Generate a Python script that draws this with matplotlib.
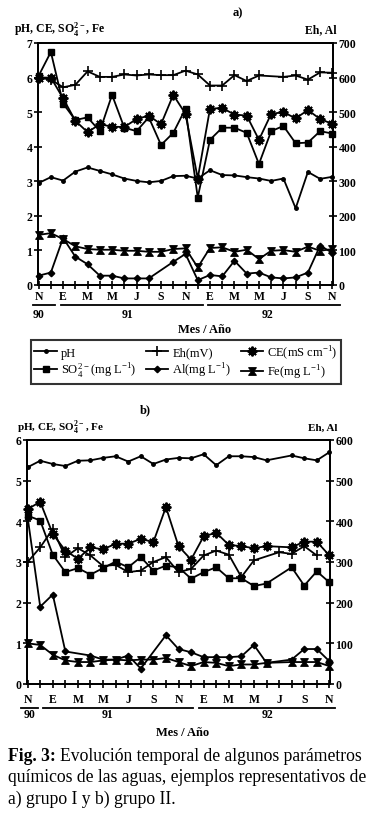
import matplotlib
matplotlib.use('Agg')
import numpy as np
import matplotlib.pyplot as plt
from matplotlib.path import Path
from matplotlib.lines import Line2D

plt.rcParams['font.family'] = ['Liberation Serif', 'DejaVu Serif']
plt.rcParams['mathtext.fontset'] = 'custom'
plt.rcParams['mathtext.rm'] = 'Liberation Serif'
plt.rcParams['mathtext.bf'] = 'Liberation Serif:bold'

# ---------------- data ----------------
months = list(range(25))  # Nov 1990 ... Nov 1992, monthly
month_labels = ['N', '', 'E', '', 'M', '', 'M', '', 'J', '', 'S', '', 'N',
                '', 'E', '', 'M', '', 'M', '', 'J', '', 'S', '', 'N']
years = ['90', '91', '92']
nan = float('nan')

# panel a) grupo I
ph_a = [2.95, 3.12, 3.02, 3.28, 3.40, 3.30, 3.20, 3.08, 3.01, 2.97, 3.01, 3.15, 3.16,
        3.08, 3.32, 3.18, 3.17, 3.12, 3.08, 3.01, 3.08, 2.22, 3.27, 3.07, 3.13]
eh_a = [600, 594, 572, 579, 618, 602, 602, 609, 606, 609, 607, 607, 620,
        609, 577, 577, 607, 590, 606, nan, 602, 606, 594, 615, 614]
ce_a = [6.00, 6.00, 5.40, 4.75, 4.42, 4.65, 4.58, 4.57, 4.80, 4.90, 4.65, 5.50, 4.95,
        3.08, 5.10, 5.12, 4.93, 4.90, 4.20, 4.95, 5.00, 4.82, 5.06, 4.80, 4.66]
so4_a = [6.05, 6.74, 5.25, 4.77, 4.85, 4.45, 5.50, 4.55, 4.45, 4.85, 4.05, 4.40, 5.10,
         2.53, 4.20, 4.55, 4.55, 4.40, 3.50, 4.45, 4.60, 4.10, 4.12, 4.45, 4.38]
al_a = [27, 36, 136, 82, 60, 27, 27, 19, 19, 19, nan, 67, 90,
        14, 29, 25, 70, 33, 36, 22, 19, 22, 36, 114, 93]
fe_a = [1.45, 1.50, 1.33, 1.12, 1.04, 1.02, 1.02, 0.99, 0.99, 0.96, 0.96, 1.04, 1.06,
        0.51, 1.07, 1.09, 0.96, 1.02, 0.75, 0.99, 1.01, 0.96, 1.11, 0.99, 1.04]

# panel b) grupo II
ph_b = [5.33, 5.49, 5.41, 5.36, 5.49, 5.50, 5.56, 5.60, 5.47, 5.60, 5.41, 5.52, 5.56,
        5.55, 5.65, 5.38, 5.60, 5.60, 5.58, 5.50, nan, 5.62, 5.55, 5.50, 5.70]
eh_b = [300, 336, 381, 312, 334, 316, 290, 293, 275, 279, 300, 312, 275,
        283, 316, 328, 318, 263, 304, nan, 324, 320, 339, 316, nan]
ce_b = [4.30, 4.48, 3.69, 3.28, 3.08, 3.36, 3.31, 3.45, 3.45, 3.57, 3.49, 4.35, 3.39,
        3.06, 3.63, 3.72, 3.42, 3.39, 3.34, 3.39, nan, 3.36, 3.50, 3.50, 3.16]
so4_b = [4.14, 4.02, 3.18, 2.75, 2.85, 2.69, 2.85, 3.01, 2.87, 3.12, 2.79, 2.91, 2.87,
         2.59, 2.75, 2.87, 2.60, 2.60, 2.41, 2.47, nan, 2.87, 2.42, 2.77, 2.50]
al_b = [410, 190, 220, 80, nan, 70, 60, 60, 70, 38, nan, 120, 86,
        78, 66, 66, 66, 68, 96, 52, nan, 60, 86, 86, 56]
fe_b = [1.00, 0.96, 0.72, 0.58, 0.54, 0.54, 0.58, 0.60, 0.58, 0.60, 0.60, 0.64, 0.54,
        0.44, 0.54, 0.52, 0.44, 0.48, 0.48, 0.52, nan, 0.54, 0.54, 0.54, 0.44]

# ---------------- styles ----------------
fe_marker = Path([(-1, 1), (1, 1), (0.25, 0), (1, -1), (-1, -1), (-0.25, 0), (-1, 1)],
                 [Path.MOVETO, Path.LINETO, Path.LINETO, Path.LINETO, Path.LINETO,
                  Path.LINETO, Path.CLOSEPOLY])
LW = 1.3
styles = {
    'ph': dict(marker='o', ms=2.5),
    'eh': dict(marker='+', ms=7, mew=1.2),
    'ce': dict(marker=(8, 2, 0), ms=7, mew=1.4),
    'so4': dict(marker='s', ms=3.8),
    'al': dict(marker='D', ms=3.3),
    'fe': dict(marker=fe_marker, ms=5.5, mew=0.8),
}

W, H = 372, 820
fig = plt.figure(figsize=(W / 100, H / 100), dpi=100)
fig.patch.set_facecolor('white')


def plot_series(ax, vals, key):
    x = np.array(months, float)
    y = np.array(vals, float)
    m = ~np.isnan(y)
    return ax.plot(x[m], y[m], color='black', lw=LW, mfc='black', mec='black',
                   clip_on=False, zorder=3, **styles[key])[0]


def panel(box, ymax, rmax, ph, eh, ce, so4, al, fe, mon_y, yr_y, mes_x, mes_y,
          segs, yr_x):
    l, t, r, b = box
    ax = fig.add_axes([l / W, 1 - b / H, (r - l) / W, (b - t) / H])
    ax2 = ax.twinx()
    ax.set_xlim(-0.05, 24.05)
    ax.set_ylim(0, ymax)
    ax2.set_ylim(0, rmax)
    for a in (ax, ax2):
        for s in a.spines.values():
            s.set_linewidth(1.3)
        a.patch.set_alpha(0)
    ax.set_yticks(range(0, ymax + 1))
    ax2.set_yticks(range(0, rmax + 1, 100))
    ax.set_xticks(months)
    ax.set_xticklabels([])
    ax.tick_params(axis='both', direction='inout', length=6, width=1.2,
                   labelsize=8.5, pad=1)
    ax2.tick_params(axis='y', direction='inout', length=6, width=1.2,
                    labelsize=8.5, pad=1)
    for lab in ax.get_yticklabels() + ax2.get_yticklabels():
        lab.set_fontweight('bold')
    hs = {}
    hs['ph'] = plot_series(ax, ph, 'ph')
    hs['ce'] = plot_series(ax, ce, 'ce')
    hs['so4'] = plot_series(ax, so4, 'so4')
    hs['fe'] = plot_series(ax, fe, 'fe')
    hs['eh'] = plot_series(ax2, eh, 'eh')
    hs['al'] = plot_series(ax2, al, 'al')
    # month labels
    dx = (r - l) / 24.1
    for i, lab in enumerate(month_labels):
        if lab:
            fig.text((l + (i + 0.05) * dx) / W, 1 - mon_y / H, lab, ha='center',
                     va='center', fontsize=8.5, fontweight='bold')
    for (xa, xb), yx, yr in zip(segs, yr_x, years):
        fig.add_artist(Line2D([xa / W, xb / W], [1 - (mon_y + 9) / H] * 2,
                              color='black', lw=1.3))
        fig.text(yx / W, 1 - yr_y / H, yr, ha='center', va='center',
                 fontsize=8.5, fontweight='bold')
    fig.text(mes_x / W, 1 - mes_y / H, 'Mes / Año', ha='center',
             va='center', fontsize=9, fontweight='bold')
    return ax, ax2, hs


# panel a
ax_a, ax_a2, hs = panel((38, 44, 333, 286), 7, 700, ph_a, eh_a, ce_a, so4_a, al_a, fe_a,
                        297, 315, 205, 330, [(33, 55), (61, 203), (208, 340)],
                        [39, 128, 267])
fig.text(238 / W, 1 - 13 / H, 'a)', ha='center', va='center', fontsize=9, fontweight='bold')
fig.text(14 / W, 1 - 30 / H, r'pH, CE, SO$_\mathbf{4}^\mathbf{2-}$, Fe', ha='left',
         va='center', fontsize=8.5, fontweight='bold')
fig.text(337 / W, 1 - 30 / H, 'Eh, Al', ha='right', va='center', fontsize=8.5,
         fontweight='bold')

# panel b
ax_b, ax_b2, _ = panel((27, 441, 330, 685), 6, 600, ph_b, eh_b, ce_b, so4_b, al_b, fe_b,
                       700, 715, 183, 733, [(21, 38), (43, 193), (199, 335)],
                       [30, 107, 268])
fig.text(145 / W, 1 - 410 / H, 'b)', ha='center', va='center', fontsize=9, fontweight='bold')
fig.text(17 / W, 1 - 428 / H, r'pH, CE, SO$_\mathbf{4}^\mathbf{2-}$, Fe', ha='left',
         va='center', fontsize=8, fontweight='bold')
fig.text(338 / W, 1 - 428 / H, 'Eh, Al', ha='right', va='center', fontsize=8,
         fontweight='bold')

# legend
handles = [hs['ph'], hs['so4'], hs['eh'], hs['al'], hs['ce'], hs['fe']]
labels = ['pH', r'SO$_4^{2-}$(mg L$^{-1}$)', 'Eh(mV)', r'Al(mg L$^{-1}$)',
          r'CE(mS cm$^{-1}$)', r'Fe(mg L$^{-1}$)']
leg = fig.legend(handles, labels, ncol=3, loc='center', bbox_to_anchor=(186 / W, 1 - 363 / H),
                 frameon=True, fancybox=False, edgecolor='black', fontsize=9,
                 handlelength=1.8, handletextpad=0.3, columnspacing=0.8,
                 labelspacing=0.15, borderpad=0.25)
leg.get_frame().set_linewidth(1.5)

# caption
cap_fs = 12.7
t = fig.text(8 / W, 1 - 757 / H, 'Fig. 3:', ha='left', va='center', fontsize=cap_fs,
             fontweight='bold')
fig.canvas.draw()
bb = t.get_window_extent()
fig.text((bb.x1 + 4) / W, 1 - 757 / H, 'Evolución temporal de algunos parámetros',
         ha='left', va='center', fontsize=cap_fs)
fig.text(8 / W, 1 - 778 / H, 'químicos de las aguas, ejemplos representativos de',
         ha='left', va='center', fontsize=cap_fs)
fig.text(8 / W, 1 - 799 / H, 'a) grupo I y b) grupo II.', ha='left', va='center',
         fontsize=cap_fs)

fig.savefig('out.png', dpi=100, facecolor='white')
